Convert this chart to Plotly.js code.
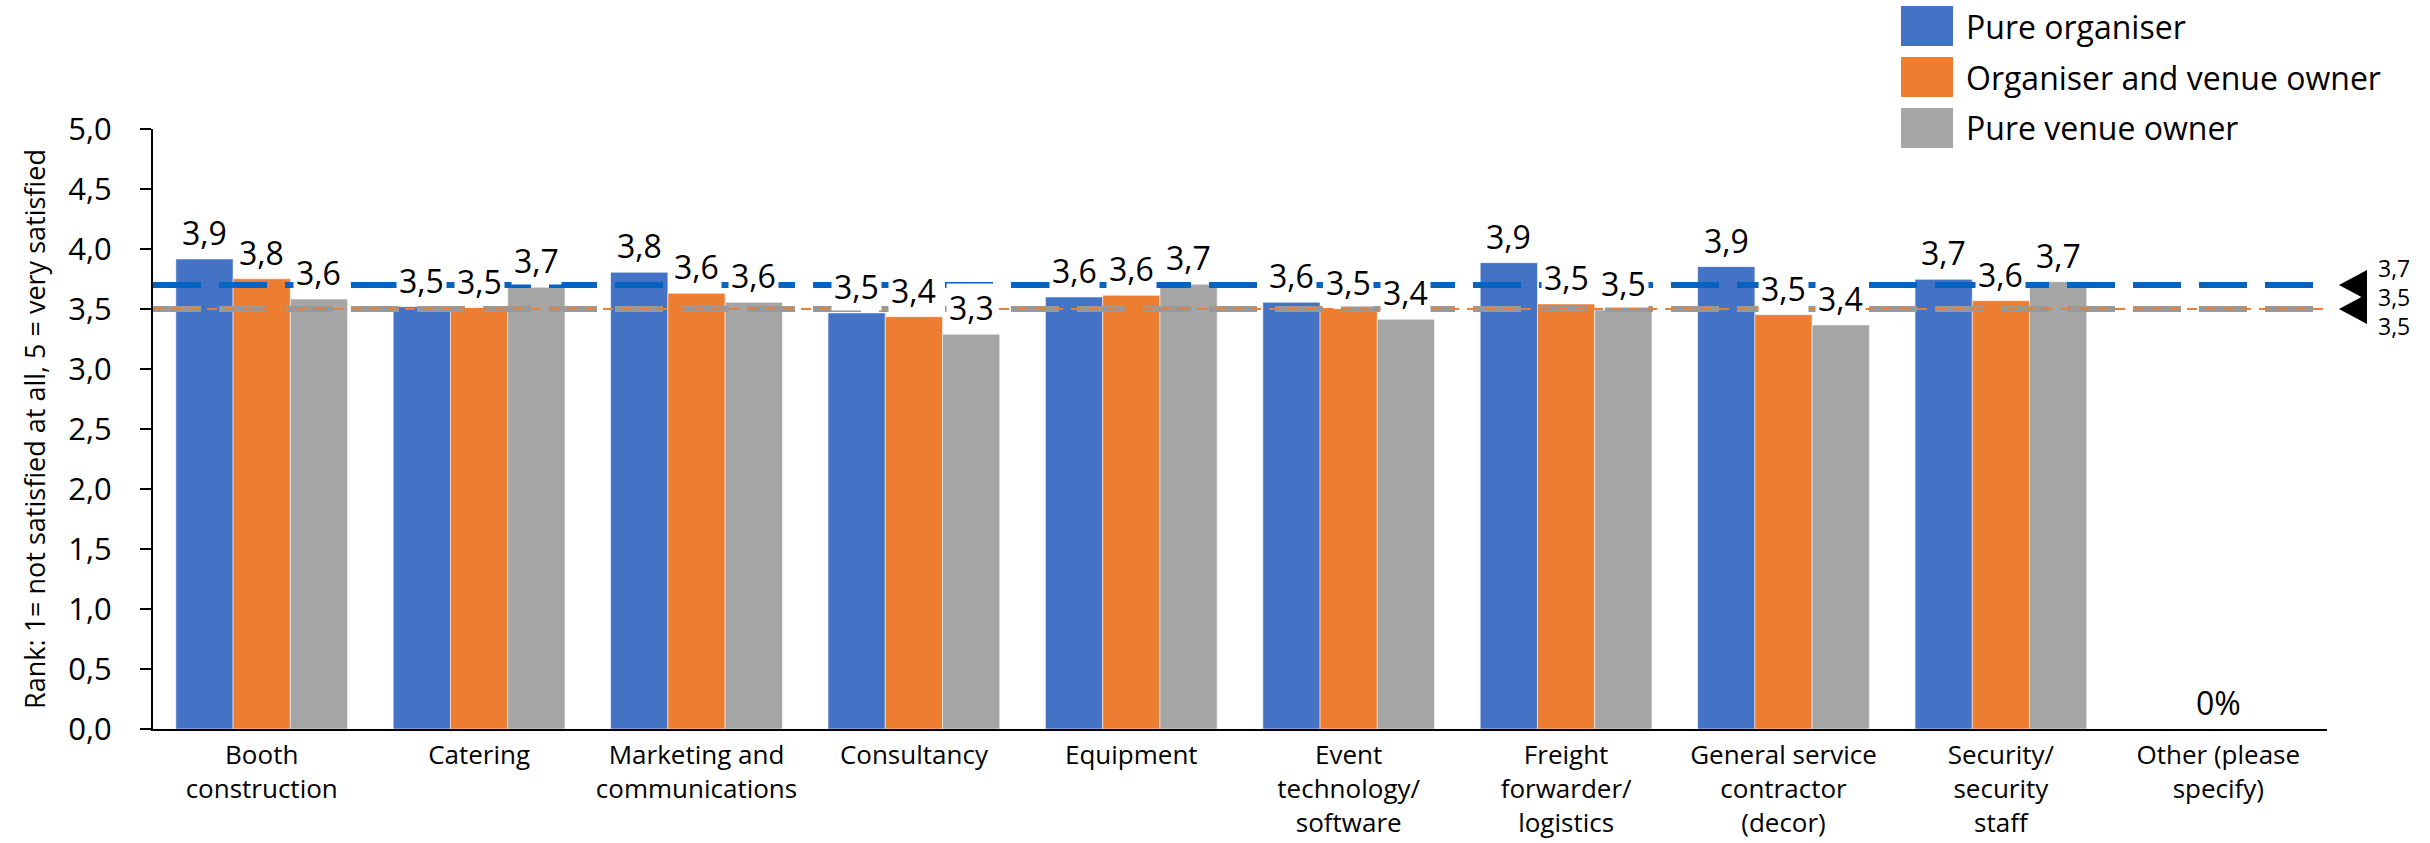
<!DOCTYPE html>
<html>
<head>
<meta charset="utf-8">
<script src="https://cdn.plot.ly/plotly-3.0.1.min.js"></script>
<style>
  html, body { margin: 0; padding: 0; background: #ffffff; }
  #chart { width: 2430px; height: 843px; }
</style>
</head>
<body>
<div id="chart"></div>
<script>
// Satisfaction with supplier categories, by respondent type (1 = not satisfied at all, 5 = very satisfied)
const categories = [
  'Booth<br>construction',
  'Catering',
  'Marketing and<br>communications',
  'Consultancy',
  'Equipment',
  'Event<br>technology/<br>software',
  'Freight<br>forwarder/<br>logistics',
  'General service<br>contractor<br>(decor)',
  'Security/<br>security<br>staff',
  'Other (please<br>specify)'
];

const seriesNames = ['Pure organiser', 'Organiser and venue owner', 'Pure venue owner'];

const pureOrganiser   = [3.917, 3.519, 3.806, 3.467, 3.600, 3.556, 3.886, 3.853, 3.747, null];
const organiserVenue  = [3.752, 3.511, 3.631, 3.436, 3.614, 3.503, 3.542, 3.453, 3.569, 0];
const pureVenueOwner  = [3.583, 3.681, 3.556, 3.290, 3.706, 3.414, 3.492, 3.367, 3.728, null];

// Overall averages per respondent type
const averages = [3.7, 3.5, 3.5];

const yTicks = [0, 0.5, 1, 1.5, 2, 2.5, 3, 3.5, 4, 4.5, 5];

const barColors  = ['#4472C4', '#ED7D31', '#A5A5A5'];
const lineColors = ['#0563C1', '#ED7D31', '#999999'];

const FONT = '"Open Sans", "Noto Sans", sans-serif';

// Page geometry (px)
const W = 2430, H = 843;
const M = { l: 153, r: 103, t: 129, b: 114 };
const plotW = W - M.l - M.r, plotH = H - M.t - M.b;
const px2x = px => (px - M.l) / plotW;
const py2y = py => (H - M.b - py) / plotH;

const BARGAP = 0.21;
const barWidthPx = plotW / categories.length * (1 - BARGAP) / seriesNames.length;

function fmt(v) {
  if (v === null) return '';
  if (v === 0) return '0%';
  return v.toFixed(1).replace('.', ',');
}

const seriesValues = [pureOrganiser, organiserVenue, pureVenueOwner];

const traces = seriesValues.map((vals, i) => ({
  type: 'bar',
  name: seriesNames[i],
  x: categories,
  y: vals,
  marker: { color: barColors[i], line: { color: 'rgba(255,255,255,0.55)', width: 1 } },
  showlegend: false,
  hoverinfo: 'skip'
}));

const shapes = [];
const annotations = [];

// Average lines (gray wide, orange thin on top, blue)
const lineStyles = [
  { width: 6, dash: '48px,18px', x1: px2x(2329) },
  { width: 2, dash: '10px,8px',  x1: px2x(2327) },
  { width: 6, dash: '48px,18px', x1: px2x(2315) }
];
[2, 1, 0].forEach(i => {
  const st = lineStyles[i];
  shapes.push({
    type: 'line', layer: 'above',
    xref: 'paper', yref: 'y',
    x0: 0, x1: st.x1, y0: averages[i], y1: averages[i],
    line: { color: lineColors[i], width: st.width, dash: st.dash }
  });
});

// Markers pointing at the average lines
[averages[0], averages[1]].forEach(v => {
  const tip = px2x(2339), back = px2x(2367);
  const half = 15 / plotH * 5;
  shapes.push({
    type: 'path', layer: 'above', xref: 'paper', yref: 'y',
    path: `M ${tip} ${v} L ${back} ${v + half} L ${back} ${v - half} Z`,
    fillcolor: '#000000', line: { width: 0 }
  });
});

// Average value labels
const avgShifts = [17, 12, -17];
averages.forEach((v, i) => {
  annotations.push({
    xref: 'paper', yref: 'y', x: px2x(2376), y: v,
    xanchor: 'left', yanchor: 'middle', yshift: avgShifts[i],
    text: fmt(v), showarrow: false,
    font: { family: FONT, size: 23, color: '#000000' }
  });
});

// Data labels above each bar (white boxed, over the average lines)
seriesValues.forEach((vals, i) => {
  vals.forEach((v, j) => {
    if (v === null) return;
    annotations.push({
      xref: 'x', yref: 'y', x: categories[j], y: v,
      xanchor: 'center', yanchor: 'bottom',
      xshift: (i - 1) * barWidthPx, yshift: 2,
      text: fmt(v), showarrow: false,
      bgcolor: '#ffffff', borderpad: 2,
      font: { family: FONT, size: 32, color: '#000000' }
    });
  });
});

// Legend
const legendRowsTop = [6, 57, 108];
seriesNames.forEach((name, i) => {
  const top = legendRowsTop[i];
  shapes.push({
    type: 'rect', xref: 'paper', yref: 'paper',
    x0: px2x(1901), x1: px2x(1953), y0: py2y(top + 40), y1: py2y(top),
    fillcolor: barColors[i], line: { width: 0 }
  });
  annotations.push({
    xref: 'paper', yref: 'paper', x: px2x(1964), y: py2y(top + 20),
    xanchor: 'left', yanchor: 'middle', showarrow: false,
    text: name, font: { family: FONT, size: 32, color: '#000000' }
  });
});

const layout = {
  width: W, height: H,
  margin: M,
  paper_bgcolor: '#ffffff', plot_bgcolor: '#ffffff',
  separators: ', ',
  font: { family: FONT, color: '#000000' },
  barmode: 'group',
  bargap: BARGAP,
  bargroupgap: 0,
  showlegend: false,
  hovermode: false,
  xaxis: {
    type: 'category',
    showline: true, linecolor: '#000000', linewidth: 2,
    ticks: '', showgrid: false, zeroline: false,
    tickfont: { family: FONT, size: 26, color: '#000000' },
    ticklabelstandoff: 2,
    fixedrange: true
  },
  yaxis: {
    range: [0, 5],
    tickvals: yTicks,
    tickformat: '.1f',
    showline: true, linecolor: '#000000', linewidth: 2,
    ticks: 'outside', ticklen: 11, tickwidth: 2, tickcolor: '#000000',
    ticklabelstandoff: 22,
    showgrid: false, zeroline: false,
    tickfont: { family: FONT, size: 31, color: '#000000' },
    title: { text: 'Rank: 1= not satisfied at all, 5 = very satisfied', font: { family: FONT, size: 27, color: '#000000' }, standoff: 15 },
    automargin: false,
    fixedrange: true
  },
  shapes: shapes,
  annotations: annotations
};

Plotly.newPlot('chart', traces, layout, { displayModeBar: false, staticPlot: true });
</script>
</body>
</html>
